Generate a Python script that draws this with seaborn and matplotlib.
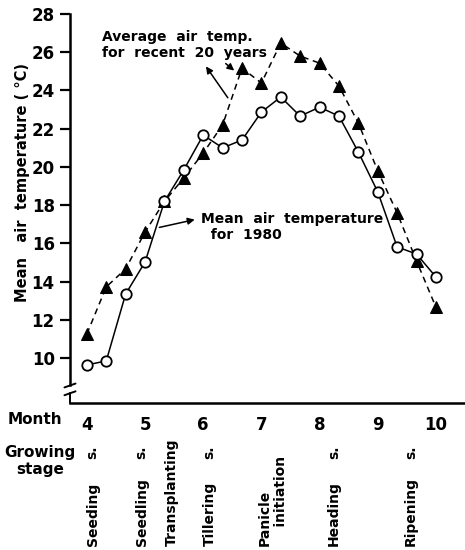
import numpy as np
import pandas as pd
import seaborn as sns
import matplotlib
matplotlib.use('Agg')
import matplotlib.pyplot as plt
import matplotlib.transforms as mtransforms

# Dekad positions (3 per month, April to October)
dekad = [4 + i / 3 for i in range(19)]

# Mean air temperature for 1980 (open circles)
temp_1980 = [9.65, 9.86, 13.36, 15.03, 18.2, 19.85, 21.67, 21.0, 21.41, 22.87,
             23.66, 22.66, 23.13, 22.66, 20.78, 18.7, 15.82, 15.45, 14.25]

# Average air temperature for recent 20 years (filled triangles)
temp_avg20 = [11.27, 13.73, 14.67, 16.6, 18.2, 19.43, 20.73, 22.2, 25.17, 24.39,
              26.48, 25.8, 25.43, 24.23, 22.3, 19.8, 17.6, 15.09, 12.67]

months = [4, 5, 6, 7, 8, 9, 10]
yticks = [10, 12, 14, 16, 18, 20, 22, 24, 26, 28]

# Growing stages along the month axis
stage_names = ['Seeding', 'Seedling', 'Transplanting', 'Tillering',
               'Panicle\n    initiation', 'Heading', 'Ripening']
stage_suffix = ['s.', 's.', '', 's.', '', 's.', 's.']
stage_pos = [4.10, 4.94, 5.46, 6.11, 7.2, 8.25, 9.57]

df = pd.DataFrame({'month': dekad, 'y1980': temp_1980, 'yavg': temp_avg20})

sns.set_style('ticks')
plt.rcParams['font.family'] = ['DejaVu Sans']
plt.rcParams.update({'text.color': 'black', 'axes.labelcolor': 'black',
                     'xtick.color': 'black', 'ytick.color': 'black',
                     'axes.edgecolor': 'black'})

W, H = 465, 550
fig = plt.figure(figsize=(W / 100, H / 100), dpi=100)
ax = fig.add_axes([70 / W, 1 - 403 / H, 395 / W, 389 / H])

# 20-year average: dashed line with filled triangles
sns.lineplot(data=df, x='month', y='yavg', ax=ax, color='black',
             linestyle=(0, (4, 3)), linewidth=1.1, marker='^',
             markersize=8.5, markerfacecolor='black', markeredgecolor='black')
# 1980: solid line with open circles
sns.lineplot(data=df, x='month', y='y1980', ax=ax, color='black',
             linewidth=1.1, marker='o', markersize=7.5,
             markerfacecolor='white', markeredgecolor='black',
             markeredgewidth=1.3)

ax.set_xlim(3.71, 10.5)
ax.set_ylim(7.66, 28)
ax.set_xticks(months)
ax.set_yticks(yticks)
ax.set_xlabel('')
ax.set_ylabel('')
ax.tick_params(axis='y', direction='out', length=7, width=1.6,
               labelsize=12, pad=4)
ax.tick_params(axis='x', length=0, labelsize=12, pad=9)
for lab in ax.get_xticklabels() + ax.get_yticklabels():
    lab.set_fontweight('bold')

sns.despine(ax=ax)
for s in ['left', 'bottom']:
    ax.spines[s].set_linewidth(1.8)
ax.spines['left'].set_bounds(8.6, 28)

# axis break marks on the y axis
kw = dict(transform=ax.transAxes, color='black', lw=1.4, clip_on=False)
ax.plot([0, 0], [0, 0.026], **kw)
ax.plot([-0.014, 0.014], [0.040, 0.050], **kw)
ax.plot([-0.014, 0.014], [0.020, 0.030], **kw)

# annotations
ax.text(4.26, 26.38, 'Average  air  temp.\nfor  recent  20  years',
        fontsize=10, fontweight='bold', ha='left', va='center')
ax.annotate('', xy=(6.02, 25.38), xytext=(6.45, 23.5),
            arrowprops=dict(arrowstyle='-|>', color='black', lw=1.1,
                            mutation_scale=10))
ax.annotate('', xy=(6.57, 24.95), xytext=(6.35, 25.5),
            arrowprops=dict(arrowstyle='-|>', color='black', lw=1.1,
                            mutation_scale=10))

ax.text(5.97, 16.86, 'Mean  air  temperature\n  for  1980',
        fontsize=10, fontweight='bold', ha='left', va='center')
ax.annotate('', xy=(5.90, 17.28), xytext=(5.20, 16.81),
            arrowprops=dict(arrowstyle='-|>', color='black', lw=1.1,
                            mutation_scale=10))

# y label
fig.text(23 / W, 1 - 182 / H, 'Mean   air  temperature ( °C)',
         rotation=90, fontsize=10.5, fontweight='bold',
         ha='center', va='center')

# row labels below the axis
fig.text(8 / W, 1 - 420 / H, 'Month', fontsize=11, fontweight='bold',
         ha='left', va='center')
fig.text(40 / W, 1 - 461 / H, 'Growing\nstage', fontsize=11,
         fontweight='bold', ha='center', va='center', linespacing=1.2)

trans = mtransforms.blended_transform_factory(ax.transData, fig.transFigure)
for name, suf, xp in zip(stage_names, stage_suffix, stage_pos):
    ax.text(xp, 1 - 546 / H, name, transform=trans, rotation=90,
            fontsize=10, fontweight='bold', ha='center', va='bottom',
            multialignment='left', clip_on=False)
    if suf:
        ax.text(xp, 1 - 452 / H, suf, transform=trans, rotation=90,
                fontsize=10, fontweight='bold', ha='center', va='center',
                clip_on=False)

fig.savefig('out.png', dpi=100)
